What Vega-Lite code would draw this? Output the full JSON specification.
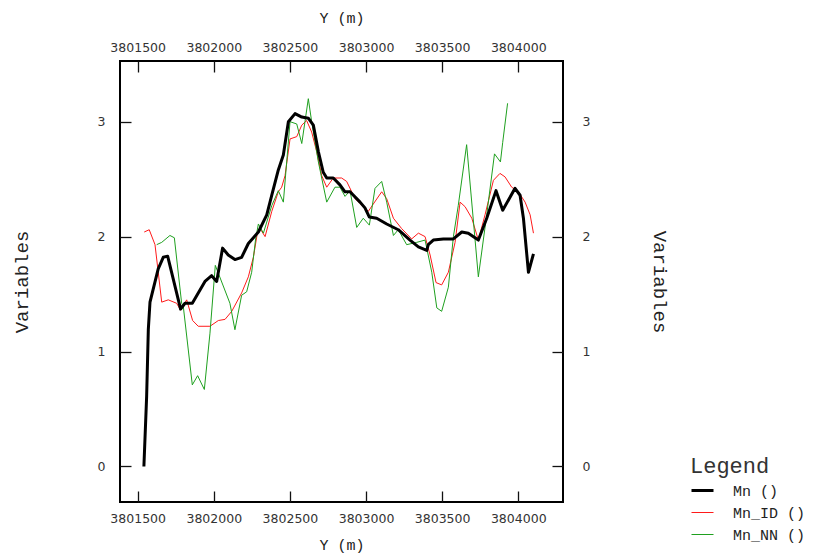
{
  "$schema": "https://vega.github.io/schema/vega-lite/v6.json",
  "autosize": "none",
  "padding": {"left": 120, "top": 61, "right": 259, "bottom": 52},
  "width": 443,
  "height": 441,
  "background": "white",
  "config": {
    "view": {"stroke": "black", "strokeWidth": 2},
    "axis": {
      "domain": false,
      "grid": false,
      "tickColor": "#111111",
      "tickWidth": 1.3,
      "tickSize": -11,
      "labelFont": "DejaVu Sans",
      "labelFontSize": 12.5,
      "labelColor": "#333333",
      "titleFont": "Liberation Mono",
      "titleFontWeight": "normal",
      "titleColor": "#222222"
    }
  },
  "data": {"values": [
    {"y": 3801543, "v": 2.04, "s": "Mn_ID ()"},
    {"y": 3801576, "v": 2.06, "s": "Mn_ID ()"},
    {"y": 3801614, "v": 1.93, "s": "Mn_ID ()"},
    {"y": 3801658, "v": 1.43, "s": "Mn_ID ()"},
    {"y": 3801701, "v": 1.45, "s": "Mn_ID ()"},
    {"y": 3801756, "v": 1.42, "s": "Mn_ID ()"},
    {"y": 3801782, "v": 1.36, "s": "Mn_ID ()"},
    {"y": 3801822, "v": 1.45, "s": "Mn_ID ()"},
    {"y": 3801861, "v": 1.27, "s": "Mn_ID ()"},
    {"y": 3801898, "v": 1.22, "s": "Mn_ID ()"},
    {"y": 3801975, "v": 1.22, "s": "Mn_ID ()"},
    {"y": 3802030, "v": 1.27, "s": "Mn_ID ()"},
    {"y": 3802074, "v": 1.28, "s": "Mn_ID ()"},
    {"y": 3802118, "v": 1.35, "s": "Mn_ID ()"},
    {"y": 3802183, "v": 1.51, "s": "Mn_ID ()"},
    {"y": 3802227, "v": 1.65, "s": "Mn_ID ()"},
    {"y": 3802260, "v": 1.82, "s": "Mn_ID ()"},
    {"y": 3802285, "v": 2.02, "s": "Mn_ID ()"},
    {"y": 3802304, "v": 2.07, "s": "Mn_ID ()"},
    {"y": 3802337, "v": 2.00, "s": "Mn_ID ()"},
    {"y": 3802381, "v": 2.22, "s": "Mn_ID ()"},
    {"y": 3802424, "v": 2.39, "s": "Mn_ID ()"},
    {"y": 3802446, "v": 2.43, "s": "Mn_ID ()"},
    {"y": 3802468, "v": 2.53, "s": "Mn_ID ()"},
    {"y": 3802501, "v": 2.85, "s": "Mn_ID ()"},
    {"y": 3802545, "v": 2.87, "s": "Mn_ID ()"},
    {"y": 3802578, "v": 2.97, "s": "Mn_ID ()"},
    {"y": 3802610, "v": 3.01, "s": "Mn_ID ()"},
    {"y": 3802643, "v": 2.91, "s": "Mn_ID ()"},
    {"y": 3802676, "v": 2.74, "s": "Mn_ID ()"},
    {"y": 3802709, "v": 2.53, "s": "Mn_ID ()"},
    {"y": 3802742, "v": 2.43, "s": "Mn_ID ()"},
    {"y": 3802785, "v": 2.51, "s": "Mn_ID ()"},
    {"y": 3802840, "v": 2.51, "s": "Mn_ID ()"},
    {"y": 3802873, "v": 2.48, "s": "Mn_ID ()"},
    {"y": 3802928, "v": 2.33, "s": "Mn_ID ()"},
    {"y": 3803015, "v": 2.22, "s": "Mn_ID ()"},
    {"y": 3803103, "v": 2.39, "s": "Mn_ID ()"},
    {"y": 3803136, "v": 2.33, "s": "Mn_ID ()"},
    {"y": 3803180, "v": 2.16, "s": "Mn_ID ()"},
    {"y": 3803234, "v": 2.07, "s": "Mn_ID ()"},
    {"y": 3803300, "v": 1.98, "s": "Mn_ID ()"},
    {"y": 3803344, "v": 2.03, "s": "Mn_ID ()"},
    {"y": 3803388, "v": 2.00, "s": "Mn_ID ()"},
    {"y": 3803421, "v": 1.84, "s": "Mn_ID ()"},
    {"y": 3803460, "v": 1.60, "s": "Mn_ID ()"},
    {"y": 3803497, "v": 1.58, "s": "Mn_ID ()"},
    {"y": 3803541, "v": 1.69, "s": "Mn_ID ()"},
    {"y": 3803585, "v": 1.95, "s": "Mn_ID ()"},
    {"y": 3803618, "v": 2.30, "s": "Mn_ID ()"},
    {"y": 3803651, "v": 2.26, "s": "Mn_ID ()"},
    {"y": 3803695, "v": 2.16, "s": "Mn_ID ()"},
    {"y": 3803738, "v": 1.97, "s": "Mn_ID ()"},
    {"y": 3803782, "v": 2.19, "s": "Mn_ID ()"},
    {"y": 3803837, "v": 2.49, "s": "Mn_ID ()"},
    {"y": 3803880, "v": 2.55, "s": "Mn_ID ()"},
    {"y": 3803913, "v": 2.52, "s": "Mn_ID ()"},
    {"y": 3803957, "v": 2.43, "s": "Mn_ID ()"},
    {"y": 3804001, "v": 2.39, "s": "Mn_ID ()"},
    {"y": 3804045, "v": 2.30, "s": "Mn_ID ()"},
    {"y": 3804078, "v": 2.19, "s": "Mn_ID ()"},
    {"y": 3804100, "v": 2.03, "s": "Mn_ID ()"},

    {"y": 3801625, "v": 1.93, "s": "Mn_NN ()"},
    {"y": 3801658, "v": 1.95, "s": "Mn_NN ()"},
    {"y": 3801712, "v": 2.01, "s": "Mn_NN ()"},
    {"y": 3801741, "v": 1.99, "s": "Mn_NN ()"},
    {"y": 3801789, "v": 1.42, "s": "Mn_NN ()"},
    {"y": 3801800, "v": 1.39, "s": "Mn_NN ()"},
    {"y": 3801859, "v": 0.71, "s": "Mn_NN ()"},
    {"y": 3801894, "v": 0.79, "s": "Mn_NN ()"},
    {"y": 3801938, "v": 0.67, "s": "Mn_NN ()"},
    {"y": 3801975, "v": 1.16, "s": "Mn_NN ()"},
    {"y": 3802010, "v": 1.75, "s": "Mn_NN ()"},
    {"y": 3802106, "v": 1.42, "s": "Mn_NN ()"},
    {"y": 3802139, "v": 1.19, "s": "Mn_NN ()"},
    {"y": 3802183, "v": 1.49, "s": "Mn_NN ()"},
    {"y": 3802216, "v": 1.52, "s": "Mn_NN ()"},
    {"y": 3802249, "v": 1.69, "s": "Mn_NN ()"},
    {"y": 3802275, "v": 1.98, "s": "Mn_NN ()"},
    {"y": 3802293, "v": 2.11, "s": "Mn_NN ()"},
    {"y": 3802326, "v": 2.03, "s": "Mn_NN ()"},
    {"y": 3802381, "v": 2.27, "s": "Mn_NN ()"},
    {"y": 3802424, "v": 2.40, "s": "Mn_NN ()"},
    {"y": 3802457, "v": 2.30, "s": "Mn_NN ()"},
    {"y": 3802479, "v": 2.65, "s": "Mn_NN ()"},
    {"y": 3802501, "v": 3.00, "s": "Mn_NN ()"},
    {"y": 3802545, "v": 2.98, "s": "Mn_NN ()"},
    {"y": 3802578, "v": 2.81, "s": "Mn_NN ()"},
    {"y": 3802599, "v": 3.00, "s": "Mn_NN ()"},
    {"y": 3802621, "v": 3.20, "s": "Mn_NN ()"},
    {"y": 3802643, "v": 3.00, "s": "Mn_NN ()"},
    {"y": 3802687, "v": 2.65, "s": "Mn_NN ()"},
    {"y": 3802742, "v": 2.30, "s": "Mn_NN ()"},
    {"y": 3802796, "v": 2.43, "s": "Mn_NN ()"},
    {"y": 3802829, "v": 2.43, "s": "Mn_NN ()"},
    {"y": 3802862, "v": 2.35, "s": "Mn_NN ()"},
    {"y": 3802895, "v": 2.40, "s": "Mn_NN ()"},
    {"y": 3802939, "v": 2.08, "s": "Mn_NN ()"},
    {"y": 3802982, "v": 2.16, "s": "Mn_NN ()"},
    {"y": 3803022, "v": 2.10, "s": "Mn_NN ()"},
    {"y": 3803059, "v": 2.42, "s": "Mn_NN ()"},
    {"y": 3803103, "v": 2.48, "s": "Mn_NN ()"},
    {"y": 3803136, "v": 2.30, "s": "Mn_NN ()"},
    {"y": 3803180, "v": 2.01, "s": "Mn_NN ()"},
    {"y": 3803212, "v": 2.06, "s": "Mn_NN ()"},
    {"y": 3803267, "v": 1.93, "s": "Mn_NN ()"},
    {"y": 3803333, "v": 1.95, "s": "Mn_NN ()"},
    {"y": 3803388, "v": 1.97, "s": "Mn_NN ()"},
    {"y": 3803432, "v": 1.69, "s": "Mn_NN ()"},
    {"y": 3803465, "v": 1.38, "s": "Mn_NN ()"},
    {"y": 3803497, "v": 1.35, "s": "Mn_NN ()"},
    {"y": 3803541, "v": 1.56, "s": "Mn_NN ()"},
    {"y": 3803574, "v": 2.00, "s": "Mn_NN ()"},
    {"y": 3803606, "v": 2.27, "s": "Mn_NN ()"},
    {"y": 3803661, "v": 2.80, "s": "Mn_NN ()"},
    {"y": 3803738, "v": 1.65, "s": "Mn_NN ()"},
    {"y": 3803793, "v": 2.19, "s": "Mn_NN ()"},
    {"y": 3803844, "v": 2.72, "s": "Mn_NN ()"},
    {"y": 3803883, "v": 2.65, "s": "Mn_NN ()"},
    {"y": 3803898, "v": 2.82, "s": "Mn_NN ()"},
    {"y": 3803930, "v": 3.16, "s": "Mn_NN ()"},

    {"y": 3801541, "v": 0.00, "s": "Mn ()"},
    {"y": 3801559, "v": 0.61, "s": "Mn ()"},
    {"y": 3801570, "v": 1.19, "s": "Mn ()"},
    {"y": 3801581, "v": 1.43, "s": "Mn ()"},
    {"y": 3801635, "v": 1.72, "s": "Mn ()"},
    {"y": 3801668, "v": 1.82, "s": "Mn ()"},
    {"y": 3801697, "v": 1.83, "s": "Mn ()"},
    {"y": 3801782, "v": 1.37, "s": "Mn ()"},
    {"y": 3801811, "v": 1.42, "s": "Mn ()"},
    {"y": 3801859, "v": 1.42, "s": "Mn ()"},
    {"y": 3801942, "v": 1.61, "s": "Mn ()"},
    {"y": 3801986, "v": 1.66, "s": "Mn ()"},
    {"y": 3802019, "v": 1.61, "s": "Mn ()"},
    {"y": 3802058, "v": 1.90, "s": "Mn ()"},
    {"y": 3802095, "v": 1.84, "s": "Mn ()"},
    {"y": 3802139, "v": 1.80, "s": "Mn ()"},
    {"y": 3802183, "v": 1.82, "s": "Mn ()"},
    {"y": 3802227, "v": 1.94, "s": "Mn ()"},
    {"y": 3802293, "v": 2.04, "s": "Mn ()"},
    {"y": 3802348, "v": 2.19, "s": "Mn ()"},
    {"y": 3802381, "v": 2.36, "s": "Mn ()"},
    {"y": 3802424, "v": 2.58, "s": "Mn ()"},
    {"y": 3802457, "v": 2.71, "s": "Mn ()"},
    {"y": 3802490, "v": 3.00, "s": "Mn ()"},
    {"y": 3802534, "v": 3.07, "s": "Mn ()"},
    {"y": 3802578, "v": 3.04, "s": "Mn ()"},
    {"y": 3802621, "v": 3.03, "s": "Mn ()"},
    {"y": 3802654, "v": 2.97, "s": "Mn ()"},
    {"y": 3802687, "v": 2.74, "s": "Mn ()"},
    {"y": 3802719, "v": 2.56, "s": "Mn ()"},
    {"y": 3802742, "v": 2.51, "s": "Mn ()"},
    {"y": 3802785, "v": 2.51, "s": "Mn ()"},
    {"y": 3802829, "v": 2.45, "s": "Mn ()"},
    {"y": 3802862, "v": 2.39, "s": "Mn ()"},
    {"y": 3802895, "v": 2.39, "s": "Mn ()"},
    {"y": 3802961, "v": 2.30, "s": "Mn ()"},
    {"y": 3802993, "v": 2.25, "s": "Mn ()"},
    {"y": 3803022, "v": 2.17, "s": "Mn ()"},
    {"y": 3803070, "v": 2.16, "s": "Mn ()"},
    {"y": 3803136, "v": 2.11, "s": "Mn ()"},
    {"y": 3803212, "v": 2.06, "s": "Mn ()"},
    {"y": 3803289, "v": 1.97, "s": "Mn ()"},
    {"y": 3803344, "v": 1.91, "s": "Mn ()"},
    {"y": 3803399, "v": 1.88, "s": "Mn ()"},
    {"y": 3803409, "v": 1.93, "s": "Mn ()"},
    {"y": 3803442, "v": 1.97, "s": "Mn ()"},
    {"y": 3803508, "v": 1.98, "s": "Mn ()"},
    {"y": 3803574, "v": 1.98, "s": "Mn ()"},
    {"y": 3803629, "v": 2.04, "s": "Mn ()"},
    {"y": 3803672, "v": 2.03, "s": "Mn ()"},
    {"y": 3803738, "v": 1.97, "s": "Mn ()"},
    {"y": 3803793, "v": 2.16, "s": "Mn ()"},
    {"y": 3803854, "v": 2.40, "s": "Mn ()"},
    {"y": 3803898, "v": 2.23, "s": "Mn ()"},
    {"y": 3803979, "v": 2.42, "s": "Mn ()"},
    {"y": 3804012, "v": 2.36, "s": "Mn ()"},
    {"y": 3804034, "v": 2.16, "s": "Mn ()"},
    {"y": 3804067, "v": 1.69, "s": "Mn ()"},
    {"y": 3804100, "v": 1.85, "s": "Mn ()"}
  ]},
  "resolve": {"axis": {"x": "independent", "y": "independent"}},
  "layer": [
    {
      "mark": {"type": "line", "strokeJoin": "round"},
      "encoding": {
        "x": {
          "field": "y", "type": "quantitative",
          "scale": {"domain": [3801384, 3804294], "nice": false, "zero": false},
          "axis": {
            "orient": "bottom", "title": "Y (m)", "titleFontSize": 15,
            "values": [3801500, 3802000, 3802500, 3803000, 3803500, 3804000],
            "format": "d", "labelPadding": 21, "titlePadding": 13
          }
        },
        "y": {
          "field": "v", "type": "quantitative",
          "scale": {"domain": [-0.309, 3.528], "nice": false, "zero": false},
          "axis": {
            "orient": "left", "title": "Variables", "titleFontSize": 19,
            "values": [0, 1, 2, 3], "labelPadding": 26, "titlePadding": 66
          }
        },
        "color": {
          "field": "s", "type": "nominal",
          "scale": {"domain": ["Mn ()", "Mn_ID ()", "Mn_NN ()"], "range": ["#000000", "#ff1a1a", "#1fa01f"]},
          "legend": {
            "title": "Legend", "orient": "none", "legendX": 570, "legendY": 395,
            "titleFont": "Liberation Mono", "titleFontSize": 22, "titleFontWeight": "normal", "titleColor": "#333333",
            "titlePadding": 0,
            "labelFont": "Liberation Mono", "labelFontSize": 15, "labelColor": "#222222",
            "symbolType": "stroke", "symbolSize": 484, "labelOffset": 18, "rowPadding": 2
          }
        },
        "strokeWidth": {
          "field": "s", "type": "nominal",
          "scale": {"type": "ordinal", "domain": ["Mn ()", "Mn_ID ()", "Mn_NN ()"], "range": [3, 1, 1]},
          "legend": null
        },
        "order": {"field": "y", "type": "quantitative"}
      }
    },
    {
      "mark": {"type": "point", "opacity": 0},
      "encoding": {
        "x": {
          "field": "y", "type": "quantitative",
          "axis": {
            "orient": "top", "title": "Y (m)", "titleFontSize": 15,
            "values": [3801500, 3802000, 3802500, 3803000, 3803500, 3804000],
            "format": "d", "labelPadding": 18, "titlePadding": 16
          }
        },
        "y": {
          "field": "v", "type": "quantitative",
          "axis": {
            "orient": "right", "title": "Variables", "titleFontSize": 19,
            "values": [0, 1, 2, 3], "labelPadding": 30, "titlePadding": 60
          }
        }
      }
    }
  ]
}
